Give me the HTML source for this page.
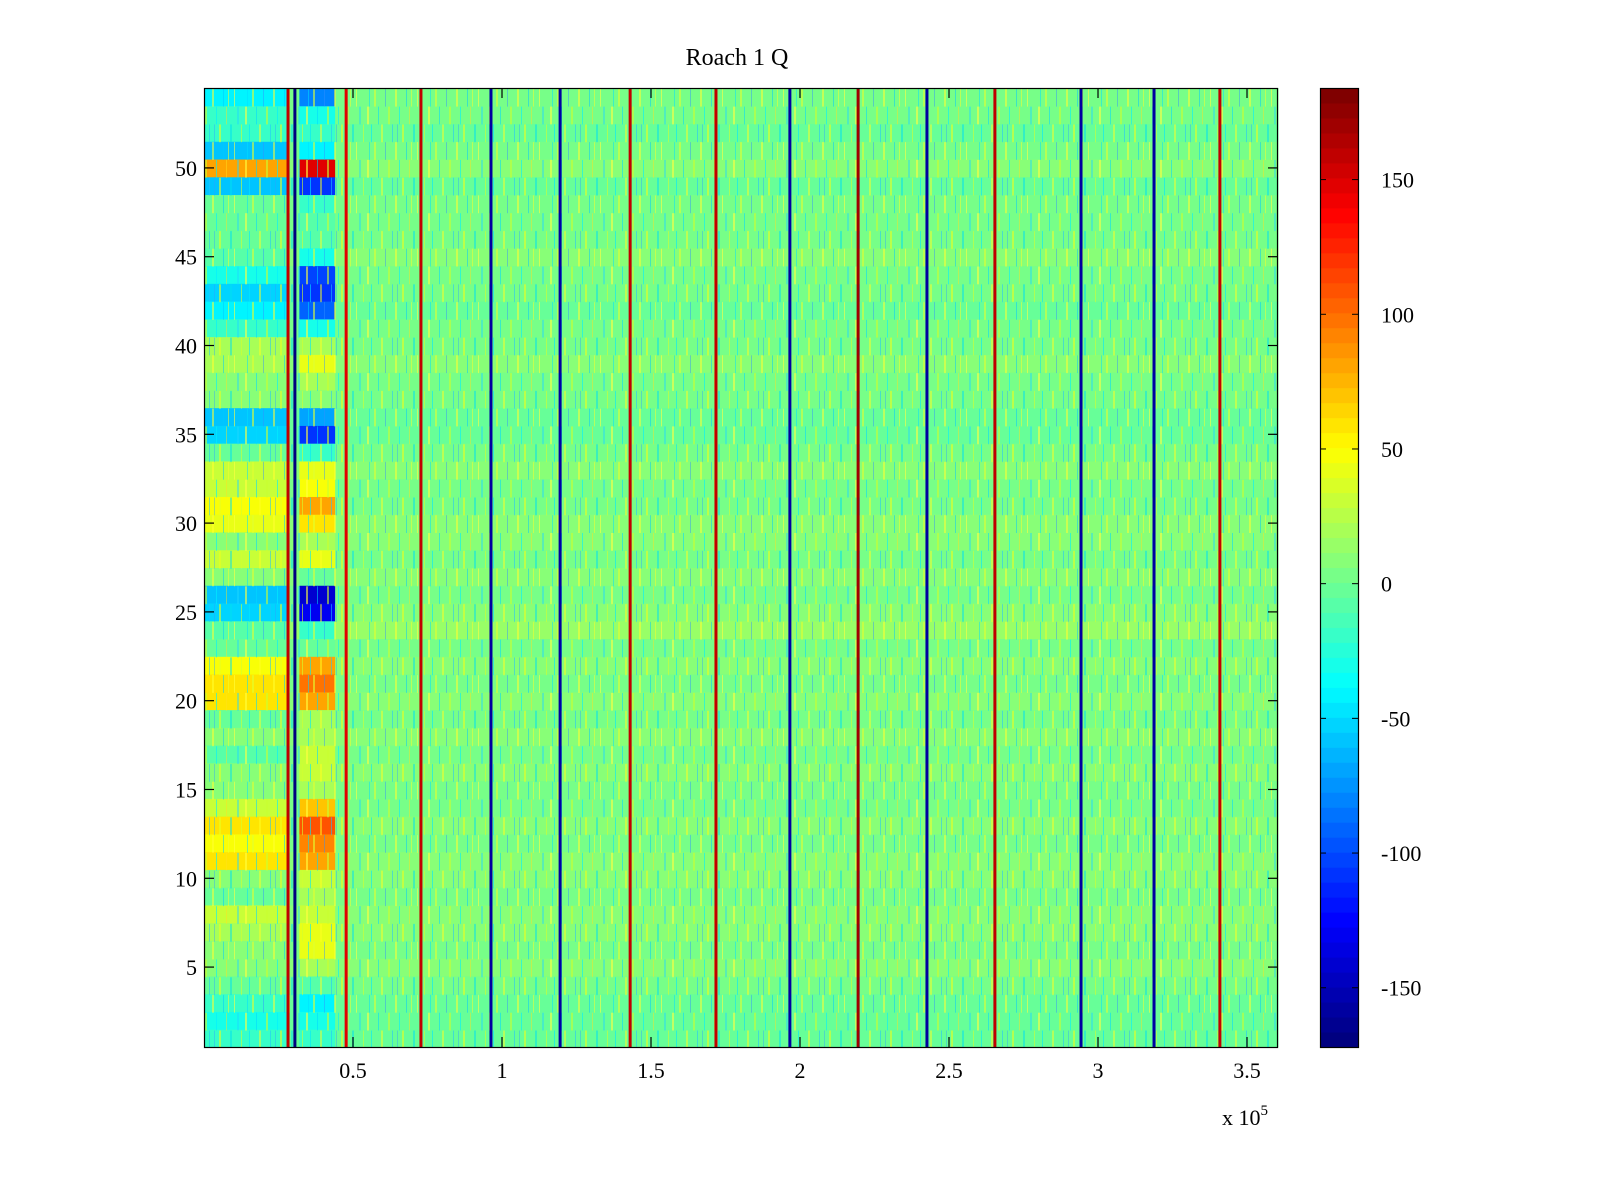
<!DOCTYPE html>
<html><head><meta charset="utf-8">
<style>
body{margin:0;background:#fff;}
svg{display:block;font-family:"Liberation Serif",serif;}
</style></head>
<body>
<svg id="chart" width="1600" height="1200" viewBox="0 0 1600 1200">
<defs>
<pattern id="tex" width="61" height="53.3" patternUnits="userSpaceOnUse">
<rect x="1" y="0" width="2" height="17.8" fill="#ffff40" opacity="0.6"/>
<rect x="5" y="17.8" width="1" height="17.8" fill="#00e8ff" opacity="0.6"/>
<rect x="8" y="35.5" width="2" height="17.8" fill="#e0ff30" opacity="0.6"/>
<rect x="12" y="0" width="1" height="17.8" fill="#00d8ff" opacity="0.55"/>
<rect x="15" y="17.8" width="2" height="17.8" fill="#ffff20" opacity="0.5"/>
<rect x="19" y="35.5" width="1" height="17.8" fill="#3090ff" opacity="0.45"/>
<rect x="22" y="0" width="2" height="17.8" fill="#c8ff30" opacity="0.6"/>
<rect x="26" y="17.8" width="1" height="17.8" fill="#20c0ff" opacity="0.55"/>
<rect x="29" y="35.5" width="2" height="17.8" fill="#ffff30" opacity="0.55"/>
<rect x="33" y="0" width="1" height="17.8" fill="#00f0ff" opacity="0.6"/>
<rect x="36" y="17.8" width="2" height="17.8" fill="#e8ff20" opacity="0.6"/>
<rect x="40" y="35.5" width="1" height="17.8" fill="#00c8ff" opacity="0.5"/>
<rect x="43" y="0" width="1" height="17.8" fill="#ffe020" opacity="0.45"/>
<rect x="47" y="17.8" width="2" height="17.8" fill="#00e0f0" opacity="0.5"/>
<rect x="51" y="35.5" width="1" height="17.8" fill="#ffff40" opacity="0.6"/>
<rect x="54" y="0" width="2" height="17.8" fill="#20d8ff" opacity="0.45"/>
<rect x="58" y="17.8" width="1" height="17.8" fill="#d0ff30" opacity="0.6"/>
<rect x="3" y="35.5" width="1" height="17.8" fill="#00e0ff" opacity="0.5"/>
<rect x="31" y="17.8" width="1" height="17.8" fill="#2aa0ff" opacity="0.4"/>
<rect x="45" y="35.5" width="1" height="17.8" fill="#f0ff30" opacity="0.55"/>
</pattern>
</defs>
<g id="cells"></g>
<rect x="205" y="88" width="1073" height="959" fill="url(#tex)"/>
<g id="vlines"></g>
<rect x="204.5" y="88.5" width="1073" height="959" fill="none" stroke="#000" stroke-width="1.2"/>
<g id="axes"></g>
<text x="737" y="65" text-anchor="middle" font-size="24">Roach 1 Q</text>
<g id="cbar"></g>
<text x="1222" y="1125" font-size="22">x 10<tspan dy="-10" font-size="15">5</tspan></text>
</svg>
<script>
// rows 1..54 (index 0 = row 1)
const leftBlock = [-20,-30,-20,0,10,10,20,30,0,10,60,50,60,30,10,10,-10,10,0,60,60,50,0,-10,-50,-60,10,30,10,40,50,30,30,0,-50,-60,10,10,20,20,-20,-40,-50,-30,-10,0,0,0,-60,80,-60,-20,-20,-40];
const midBlock = [-20,-30,-40,-10,20,40,40,30,20,30,80,90,110,70,20,30,30,20,20,80,100,80,0,-20,-130,-140,0,40,20,60,80,50,40,-20,-110,-70,10,20,40,20,-30,-90,-110,-100,-30,-10,-10,-20,-110,150,-40,-20,-30,-80];
const mainRow = [0,-5,0,5,10,5,10,10,5,10,10,5,10,5,5,10,5,10,5,10,5,10,5,12,10,5,10,5,10,10,5,5,10,5,0,0,5,5,10,5,5,0,5,5,10,5,5,5,0,10,5,0,5,5];
const lineX = [0.282,0.305,0.477,0.728,0.963,1.195,1.43,1.718,1.966,2.195,2.426,2.654,2.943,3.188,3.409];
const lineVal = [160,-170,150,160,-160,-160,160,160,-160,170,-160,160,-160,-160,160];
const xTicks = [0.5,1,1.5,2,2.5,3,3.5];
const xTickLabels = ["0.5","1","1.5","2","2.5","3","3.5"];
const yTicks = [5,10,15,20,25,30,35,40,45,50];
const cTicks = [150,100,50,0,-50,-100,-150];

const NS="http://www.w3.org/2000/svg";
const X0=204,X1=1278,Y0=88,Y1=1047, XMAX=3.604, YMIN=0.5,YMAX=54.5, CMIN=-172,CMAX=184;
const xs=v=>X0+(v/XMAX)*(X1-X0);
const ys=v=>Y0+(YMAX-v)/(YMAX-YMIN)*(Y1-Y0);
function jet(v){
  let t=(v-CMIN)/(CMAX-CMIN); t=Math.max(0,Math.min(1,t));
  t=Math.floor(t*63.999)/63;
  const f=c=>Math.round(255*Math.max(0,Math.min(1,1.5-Math.abs(4*t-c))));
  return `rgb(${f(3)},${f(2)},${f(1)})`;
}
function mk(tag,attrs,parent){const e=document.createElementNS(NS,tag);for(const k in attrs)e.setAttribute(k,attrs[k]);parent.appendChild(e);return e;}
const cells=document.getElementById('cells');
const segs=[[0,0.282,leftBlock],[0.282,0.32,mainRow],[0.32,0.44,midBlock],[0.44,XMAX,mainRow]];
for(let r=0;r<54;r++){
  const row=r+1;
  segs.forEach(s=>{
    const e=mk('rect',{x:xs(s[0]),y:ys(row+0.5),width:xs(s[1])-xs(s[0])+0.5,height:ys(row-0.5)-ys(row+0.5)+0.5,fill:jet(s[2][r])},cells);
    
    
  });
}
const vl=document.getElementById('vlines');
lineX.forEach((lx,i)=>{
  const e=mk('rect',{x:xs(lx)-1.5,y:Y0,width:3,height:Y1-Y0,fill:jet(lineVal[i])},vl);
  
  
});
const ax=document.getElementById('axes');
xTicks.forEach((t,i)=>{
  const x=xs(t);
  let e=mk('line',{x1:x,x2:x,y1:Y1,y2:Y1-10,stroke:'#000','stroke-width':1.2},ax);
  
  e=mk('line',{x1:x,x2:x,y1:Y0,y2:Y0+10,stroke:'#000','stroke-width':1.2},ax);
  
  e=mk('text',{x:x,y:1078,'text-anchor':'middle','font-size':22},ax);e.textContent=xTickLabels[i];
  
});
yTicks.forEach(t=>{
  const y=ys(t);
  let e=mk('line',{x1:X0,x2:X0+10,y1:y,y2:y,stroke:'#000','stroke-width':1.2},ax);
  
  e=mk('line',{x1:X1,x2:X1-10,y1:y,y2:y,stroke:'#000','stroke-width':1.2},ax);
  
  e=mk('text',{x:197,y:y+8,'text-anchor':'end','font-size':22},ax);e.textContent=String(t);
  
});
const cb=document.getElementById('cbar');
const CX=1320,CW=38;
const cy=v=>Y0+(CMAX-v)/(CMAX-CMIN)*(Y1-Y0);
for(let k=0;k<64;k++){
  const lo=CMIN+k*(CMAX-CMIN)/64, hi=CMIN+(k+1)*(CMAX-CMIN)/64;
  const e=mk('rect',{x:CX,y:cy(hi),width:CW,height:cy(lo)-cy(hi)+0.5,fill:jet((lo+hi)/2)},cb);
  
}
let fr=mk('rect',{x:CX+0.5,y:Y0+0.5,width:CW,height:Y1-Y0,fill:'none',stroke:'#000','stroke-width':1.2},cb);

cTicks.forEach(t=>{
  const y=cy(t);
  let e=mk('line',{x1:CX,x2:CX+6,y1:y,y2:y,stroke:'#000'},cb);
  
  e=mk('line',{x1:CX+CW,x2:CX+CW-6,y1:y,y2:y,stroke:'#000'},cb);
  
  e=mk('text',{x:1381,y:y+8,'font-size':22},cb);e.textContent=String(t);
  
});
</script>
</body></html>
